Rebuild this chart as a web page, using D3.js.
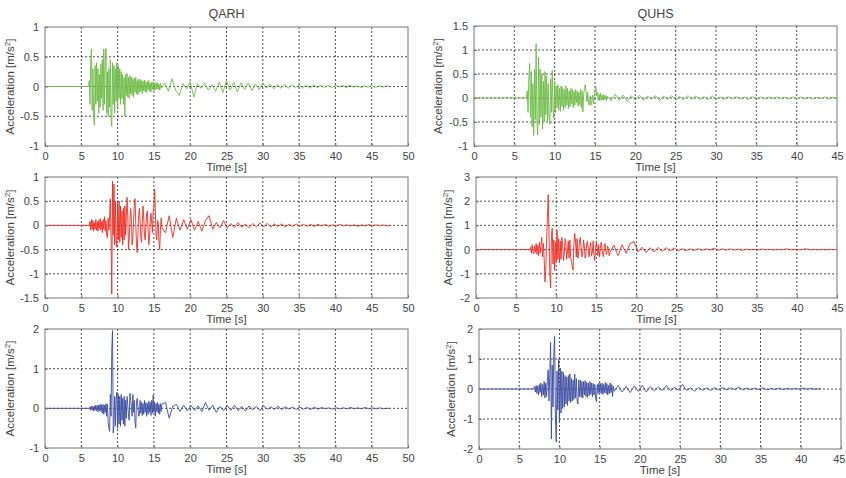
<!DOCTYPE html>
<html>
<head>
<meta charset="utf-8">
<script src="https://cdn.jsdelivr.net/npm/d3@7"></script>
<style>
  body { margin: 0; background: #fff; }
  svg { display: block; }
  text { font-family: "Liberation Sans", Arial, sans-serif; fill: #444; }
</style>
</head>
<body>
<svg id="chart" width="846" height="478"></svg>
<script>
// station names (column titles)
const stations = ["QARH", "QUHS"];

// tick labels
const timeTicksQARH = [0, 5, 10, 15, 20, 25, 30, 35, 40, 45, 50];
const timeTicksQUHS = [0, 5, 10, 15, 20, 25, 30, 35, 40, 45];
const accTicksQarhGreen = [-1, -0.5, 0, 0.5, 1];
const accTicksQuhsGreen = [-1, -0.5, 0, 0.5, 1, 1.5];
const accTicksQarhRed = [-1.5, -1, -0.5, 0, 0.5, 1];
const accTicksQuhsRed = [-2, -1, 0, 1, 2, 3];
const accTicksQarhBlue = [-1, 0, 1, 2];
const accTicksQuhsBlue = [-2, -1, 0, 1, 2];

// traces, values in cm/s^2
// strong part sampled every 0.1 s from onset, tail every 0.5 s after it
const strongStep = 0.1, tailStep = 0.5;

const qarhGreenOnset = 6.0, qarhGreenEnd = 47.5;
const qarhGreenStrong = [
  0, 10, -30, 45, 63, -40, 30, -50, -65, 35,
  -30, 40, -25, 30, -45, 20, -35, 38, -20, 45,
  -40, 63, -30, 40, 64, -45, 25, -50, 30, -35,
  45, -55, -67, 40, -30, 35, -45, 30, -25, 40,
  -35, 35, -20, 30, -30, 25, -20, 20, -30, 15,
  -50, 20, -15, 22, -18, 15, -20, 18, -12, 16,
  -15, 12, -18, 14, -10, 15, -12, 10, -14, 12,
  -10, 12, -8, 10, -12, 9, -7, 11, -9, 8,
  -10, 8, -6, 10, -8, 6, -9, 7, -5, 8,
  -7, 5, -6, 7, -4, 6, -5, 4, -6, 5, -3
];
const qarhGreenTail = [
  6, -8, 13, -6, -15, 5, -4, 8, -18, 5,
  -3, 6, -6, 3, -8, 7, -10, 10, -6, 7,
  -9, 6, -5, 6, -7, 4, -5, 6, -3, 4,
  -4, 3, -3, 4, -3, 3, -2, 3, -3, 2,
  -3, 3, -2, 2, -2, 2, -2, 2, -1, 2,
  -2, 2, -1, 1, -2, 1, -1, 2, -2, 1, -1, 1
];

const quhsGreenOnset = 6.5, quhsGreenEnd = 45;
const quhsGreenStrong = [
  0, 15, -30, 45, 72, -40, 55, -60, 30, -78,
  60, -45, 113, -50, -77, 85, -55, 60, -40, 50,
  -65, 35, -50, 55, -35, 45, -50, 30, -40, -55,
  40, -30, 58, -25, -42, 35, -30, 25, -20, 28,
  -25, 20, -28, 25, -18, 22, -25, 18, -20, 25,
  -15, 20, -22, 15, -18, 20, -12, 18, -20, 14,
  -15, 18, -10, 15, -17, 12, -14, 18, -20, 15,
  -29, 10, 20, 28, 10, -8, 12, -10, -15, 5,
  -15, -8, 6, -12, 4, 15, 25, 5, 12, -5,
  8, -6, 10, -4, 6, -5, 7, -3, 5, -6, 4
];
const quhsGreenTail = [
  -6, 8, -5, 6, -7, 5, -4, 6, -5, 4,
  -3, 5, -6, 4, -3, 5, -4, 3, -4, 5,
  -3, 4, -3, 3, -4, 5, -3, 2, -3, 3,
  -2, 3, -2, 2, -3, 3, -2, 2, -2, 2,
  -1, 2, -2, 1, -2, 2, -1, 2, -1, 1,
  -2, 1, -1, 2, -1, 1, 0
];

const qarhRedOnset = 6.1, qarhRedEnd = 47.5;
const qarhRedStrong = [
  0, 8, -10, 12, -8, 10, -12, 6, -8, 12,
  -10, 8, -12, 10, -6, 14, -10, 8, -15, 12,
  -8, 18, -12, 10, -20, -25, 15, -10, 20, 55,
  -30, -142, 91, -20, 85, -40, 50, -35, -45, 45,
  -30, 50, -35, 40, -25, 30, -40, 35, -30, 40,
  -20, 15, 58, 20, -50, -30, 10, 35, 15, -40,
  -25, 10, 40, 55, 5, -40, -56, -20, 20, 35,
  10, -25, -35, 5, 40, 15, -20, -30, 0, 25,
  30, -10, -40, -25, 10, 25, 5, -15, 30, 40,
  75, 30, -20, -30, 10, 5, -35, -50, -10, 15, -5
];
const qarhRedTail = [
  -15, 20, -25, 15, -10, 12, -8, 12, -10, 8,
  -12, 10, 20, -8, 6, -5, 10, -6, 4, -5,
  6, -4, 3, -5, 4, -3, 5, -3, 4, -3,
  3, -2, 3, -3, 2, -2, 3, -2, 2, -2,
  2, -2, 2, -1, 2, -2, 1, -1, 2, -1,
  1, -1, 1, -2, 1, -1, 2, -1, 1, -1, 1, -1
];

const quhsRedOnset = 6.7, quhsRedEnd = 45;
const quhsRedStrong = [
  0, 10, -15, 20, -10, -18, 15, -12, 25, -20,
  18, -25, 30, -15, 20, 50, -30, 25, -40, -134,
  -85, 40, 130, 227, 60, -100, -159, 50, 88, -60,
  40, -85, 30, -50, 80, -40, 45, -55, 35, -40,
  50, 20, -45, -20, 45, 30, -40, -10, 35, -35,
  40, -30, -50, -70, -85, 20, 67, 40, -30, 45,
  -35, -10, 30, 50, 10, -30, -20, 40, 15, -35,
  -20, 25, 35, -5, -30, 10, 30, -25, -15, 35,
  -20, -45, 0, 30, 10, -25, 20, -30, 5, 30,
  10, -20, -30, 20, 25, -10, -20, 15, 5, -25, -10
];
const quhsRedTail = [
  18, -25, 20, -15, 25, 33, -10, 10, -12, 8,
  -10, 9, -7, 8, -6, 7, -5, 4, -5, 3,
  -4, 4, -3, 3, -2, 6, -3, 3, -2, 3,
  -2, 2, -3, 2, -1, 1, -1, 2, -1, 1,
  -1, 1, -1, 3, -1, 1, -1, 1, 3, -1,
  1, -1, 1, -1, 1, 0
];

const qarhBlueOnset = 6.1, qarhBlueEnd = 47.5;
const qarhBlueStrong = [
  0, 4, -5, 6, -4, 5, -7, 6, -5, 8,
  -6, 7, -9, 8, -6, 10, -8, 9, -12, 10,
  -15, 8, -10, 12, -20, 10, -35, -50, -58, 35,
  -20, 150, 196, -62, -40, 30, -45, 25, 41, -50,
  35, -40, 30, -45, 35, -30, 25, -40, 30, -45,
  20, -25, 30, 10, -20, -30, 38, 20, 5, -20,
  35, -10, 20, -35, -50, 15, 25, 5, -20, -15,
  20, -12, 15, -18, 12, -15, 20, -10, 15, -20,
  12, -15, 18, -10, 15, -18, 20, -12, 33, -10,
  15, -20, 12, -8, 15, -12, 10, -15, 12, -8, 10
];
const qarhBlueTail = [
  15, -25, 5, 10, -8, 8, -6, 7, -5, 6,
  -8, 15, -5, 8, -10, 5, -6, 7, -5, 8,
  -6, 5, -7, 6, -4, 5, -6, 7, -3, 4,
  -3, 5, -3, 4, -2, 3, -3, 3, -2, 2,
  -3, 3, -2, 2, -1, 1, -2, 1, -1, 1,
  -1, 2, -1, 1, -1, 2, -1, 1, -1, 1, -1, 0
];

const quhsBlueOnset = 6.8, quhsBlueEnd = 42.5;
const quhsBlueStrong = [
  0, 8, -10, 12, -15, 10, -20, 15, -12, 20,
  -25, 15, -20, 25, -30, 20, -25, 30, 64, -40,
  50, 155, -166, 80, -60, 120, 175, -100, -177, 60,
  -70, 100, -110, 70, -80, 60, -65, 55, -60, 45,
  -50, 40, -55, 45, -40, 50, -45, 35, -40, 30,
  -35, 50, -30, 35, -40, -50, 30, -25, 30, -28,
  25, -30, 25, -20, 28, -25, 22, -28, 20, -22,
  25, -18, 20, -25, 18, -20, 15, -30, -42, 15,
  -15, 20, -12, 18, -15, 20, -18, 15, -12, 22,
  -15, 18, -20, 12, -15, 20, -12, 15, -25, 10, -8
];
const quhsBlueTail = [
  12, -10, 8, -12, 10, -8, 12, -10, 8, -6,
  7, -5, 12, -6, 5, -4, 15, -5, 4, -8,
  5, -4, 3, -5, 4, -3, 5, -3, 4, -2,
  6, -3, 3, -2, 3, -2, 4, -3, 2, -2,
  3, -2, 2, -1, 2, -1, 3, -1, 2, -1, 1
];

// layout of the six axes (pixels)
const panels = [
  {col: 0, left: 45, right: 408, top: 27, bottom: 146, xMax: 50, xTicks: timeTicksQARH, yTicks: accTicksQarhGreen,
   color: "#6cbb45", onset: qarhGreenOnset, strong: qarhGreenStrong, tail: qarhGreenTail, end: qarhGreenEnd, labelX: 14, title: true},
  {col: 1, left: 474, right: 837, top: 26, bottom: 146, xMax: 45, xTicks: timeTicksQUHS, yTicks: accTicksQuhsGreen,
   color: "#6cbb45", onset: quhsGreenOnset, strong: quhsGreenStrong, tail: quhsGreenTail, end: quhsGreenEnd, labelX: 442, title: true},
  {col: 0, left: 45, right: 408, top: 177, bottom: 298, xMax: 50, xTicks: timeTicksQARH, yTicks: accTicksQarhRed,
   color: "#ee2b24", onset: qarhRedOnset, strong: qarhRedStrong, tail: qarhRedTail, end: qarhRedEnd, labelX: 14},
  {col: 1, left: 476, right: 837, top: 177, bottom: 298, xMax: 45, xTicks: timeTicksQUHS, yTicks: accTicksQuhsRed,
   color: "#ee2b24", onset: quhsRedOnset, strong: quhsRedStrong, tail: quhsRedTail, end: quhsRedEnd, labelX: 452},
  {col: 0, left: 45, right: 408, top: 329, bottom: 448, xMax: 50, xTicks: timeTicksQARH, yTicks: accTicksQarhBlue,
   color: "#3b4ca0", onset: qarhBlueOnset, strong: qarhBlueStrong, tail: qarhBlueTail, end: qarhBlueEnd, labelX: 14},
  {col: 1, left: 479, right: 841, top: 329, bottom: 449, xMax: 45, xTicks: timeTicksQUHS, yTicks: accTicksQuhsBlue,
   color: "#3b4ca0", onset: quhsBlueOnset, strong: quhsBlueStrong, tail: quhsBlueTail, end: quhsBlueEnd, labelX: 455}
];

function buildTrace(p) {
  const pts = [[0, 0], [p.onset, 0]];
  p.strong.forEach((v, i) => pts.push([p.onset + i * strongStep, v / 100]));
  const tailStart = p.onset + (p.strong.length - 1) * strongStep;
  p.tail.forEach((v, i) => pts.push([tailStart + (i + 1) * tailStep, v / 100]));
  pts.push([p.end, 0]);
  return pts;
}

const svg = d3.select("#chart");
const fmt = d => String(d);
const W = +svg.attr("width");

panels.forEach((p, idx) => {
  const x = d3.scaleLinear([0, p.xMax], [p.left, p.right]);
  const y = d3.scaleLinear(d3.extent(p.yTicks), [p.bottom, p.top]);
  const g = svg.append("g");

  g.append("clipPath").attr("id", "clip" + idx)
    .append("rect").attr("x", p.left).attr("y", p.top)
    .attr("width", p.right - p.left).attr("height", p.bottom - p.top);

  // dotted grid
  g.append("g").attr("stroke", "#222").attr("stroke-width", 0.8).attr("stroke-dasharray", "2,2")
    .call(gg => gg.selectAll(".vx").data(p.xTicks.slice(1, -1)).join("line")
      .attr("x1", d => x(d)).attr("x2", d => x(d)).attr("y1", p.top).attr("y2", p.bottom))
    .call(gg => gg.selectAll(".hy").data(p.yTicks.slice(1, -1)).join("line")
      .attr("y1", d => y(d)).attr("y2", d => y(d)).attr("x1", p.left).attr("x2", p.right));

  // trace
  g.append("path")
    .datum(buildTrace(p))
    .attr("clip-path", `url(#clip${idx})`)
    .attr("fill", "none")
    .attr("stroke", p.color)
    .attr("stroke-width", 0.9)
    .attr("stroke-linejoin", "round")
    .attr("d", d3.line().x(d => x(d[0])).y(d => y(d[1])));

  // box
  g.append("rect").attr("x", p.left).attr("y", p.top)
    .attr("width", p.right - p.left).attr("height", p.bottom - p.top)
    .attr("fill", "none").attr("stroke", "#777").attr("stroke-width", 1);

  // axes (MATLAB style: inward ticks)
  g.append("g").attr("transform", `translate(0,${p.bottom})`)
    .call(d3.axisBottom(x).tickValues(p.xTicks).tickFormat(fmt).tickSizeInner(-3).tickSizeOuter(0).tickPadding(6))
    .call(a => a.select(".domain").remove())
    .call(a => a.selectAll("line").attr("stroke", "#777"))
    .call(a => a.selectAll("text").attr("font-size", 11).attr("fill", "#444"))
    // keep the last label inside the page when the axis touches the right edge
    .call(a => a.selectAll("text").filter(d => x(d) + 7 > W)
      .attr("text-anchor", "end").attr("x", d => W - 1 - x(d)));
  g.append("g").attr("transform", `translate(${p.left},0)`)
    .call(d3.axisLeft(y).tickValues(p.yTicks).tickFormat(fmt).tickSizeInner(-3).tickSizeOuter(0).tickPadding(6))
    .call(a => a.select(".domain").remove())
    .call(a => a.selectAll("line").attr("stroke", "#777"))
    .call(a => a.selectAll("text").attr("font-size", 11).attr("fill", "#444"));

  // axis titles
  g.append("text")
    .attr("x", (p.left + p.right) / 2).attr("y", p.bottom + 25)
    .attr("text-anchor", "middle").attr("font-size", 11.5)
    .text("Time [s]");
  const yl = g.append("text")
    .attr("transform", `translate(${p.labelX},${(p.top + p.bottom) / 2}) rotate(-90)`)
    .attr("text-anchor", "middle").attr("font-size", 11.5);
  yl.append("tspan").text("Acceleration [m/s");
  yl.append("tspan").attr("baseline-shift", "super").attr("font-size", 8).text("2");
  yl.append("tspan").text("]");

  if (p.title) {
    g.append("text")
      .attr("x", (p.left + p.right) / 2).attr("y", 18)
      .attr("text-anchor", "middle").attr("font-size", 12.5)
      .text(stations[p.col]);
  }
});
</script>
</body>
</html>
